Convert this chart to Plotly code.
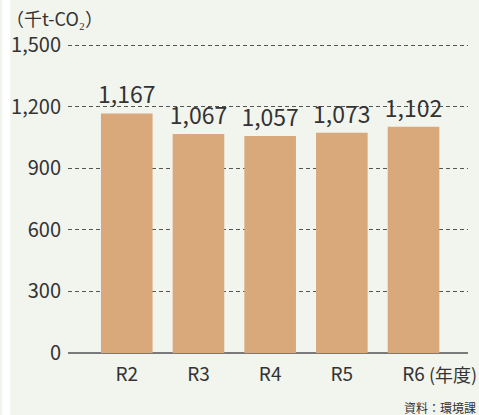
import plotly.graph_objects as go

categories = ["R2", "R3", "R4", "R5", "R6"]
values = [1167, 1067, 1057, 1073, 1102]
tick_vals = [0, 300, 600, 900, 1200, 1500]
tick_text = ["0", "300", "600", "900", "1,200", "1,500"]

FONT = "Noto Sans CJK JP"
TXT = "#333333"
BG = "#f2f4ee"
BAR = "#d9a87b"

fig = go.Figure(go.Bar(
    x=categories, y=values,
    marker=dict(color=BAR, line=dict(width=0)),
    width=0.72,
    text=[f"{v:,}" for v in values],
    textposition="outside",
    constraintext="none",
    textfont=dict(family=FONT, size=23, color=TXT),
    cliponaxis=False,
))

W, H = 479, 415
L, R, T, B = 66, 11, 44, 62
pw, ph = W - L - R, H - T - B

# white strip on the left edge
fig.add_shape(type="rect", xref="paper", yref="paper",
              x0=-L / pw, x1=(8 - L) / pw,
              y0=-B / ph, y1=1 + T / ph,
              fillcolor="white", line=dict(width=0), layer="below")

fig.update_layout(
    width=W, height=H,
    margin=dict(l=L, r=R, t=T, b=B),
    paper_bgcolor=BG,
    plot_bgcolor=BG,
    showlegend=False,
    font=dict(family=FONT, color=TXT),
    xaxis=dict(
        type="category",
        range=[-0.82, 4.76],
        showgrid=False,
        showline=False,
        zeroline=False,
        ticks="",
        tickfont=dict(family=FONT, size=19, color=TXT),
        ticklabelstandoff=8,
    ),
    yaxis=dict(
        range=[0, 1505],
        tickvals=tick_vals,
        ticktext=tick_text,
        showgrid=True,
        gridcolor="#555555",
        griddash="4px,3px",
        gridwidth=1,
        zeroline=True,
        zerolinecolor="#7a7a7a",
        zerolinewidth=2,
        showline=False,
        ticks="",
        tickfont=dict(family=FONT, size=20, color=TXT),
        ticklabelstandoff=6,
    ),
    annotations=[
        dict(text="（千t-CO₂）", xref="paper", yref="paper",
             x=(2 - L) / pw, y=1 + (T - 18) / ph, xanchor="left", yanchor="middle",
             showarrow=False, font=dict(family=FONT, size=18, color=TXT)),
        dict(text="(年度)", xref="paper", yref="paper",
             x=(479 - L) / pw, y=-(374 - 353) / ph, xanchor="right", yanchor="middle",
             showarrow=False, font=dict(family=FONT, size=18, color=TXT)),
        dict(text="資料：環境課", xref="paper", yref="paper",
             x=(W - 1 - L) / pw, y=-(407 - 353) / ph, xanchor="right", yanchor="middle",
             showarrow=False, font=dict(family=FONT, size=12, color=TXT)),
    ],
)

fig.write_html("out.html", config={"displayModeBar": False},
               post_script="document.body.style.margin='0';document.body.style.overflow='hidden';")
